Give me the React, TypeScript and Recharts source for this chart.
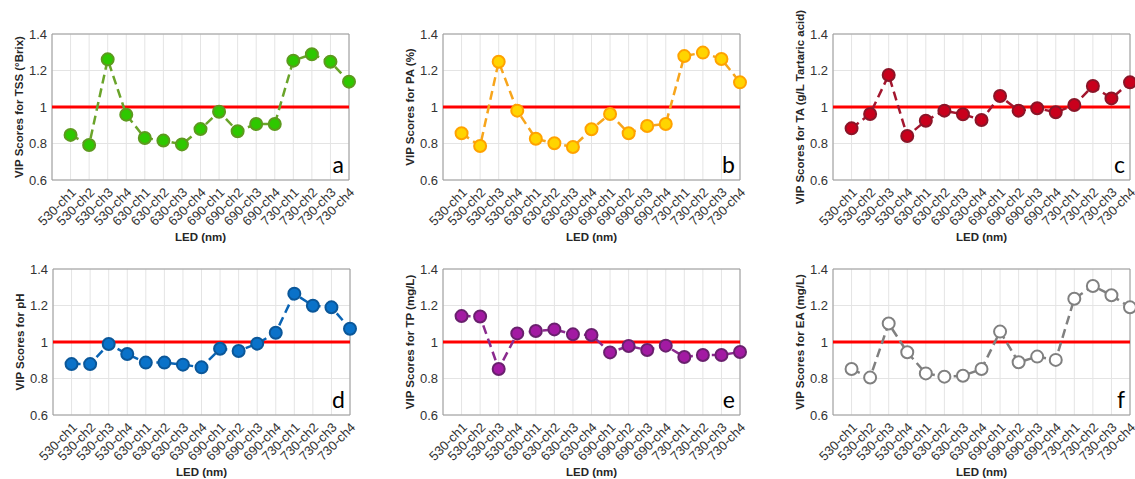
import React from 'react';
import { LineChart, Line, XAxis, YAxis, CartesianGrid, ReferenceLine, ReferenceArea } from 'recharts';

const categories = ['530-ch1','530-ch2','530-ch3','530-ch4','630-ch1','630-ch2','630-ch3','630-ch4','690-ch1','690-ch2','690-ch3','690-ch4','730-ch1','730-ch2','730-ch3','730-ch4'];

const tssVip = [0.847,0.792,1.261,0.958,0.830,0.816,0.795,0.879,0.974,0.867,0.907,0.907,1.254,1.289,1.248,1.139];
const paVip = [0.856,0.786,1.248,0.980,0.826,0.801,0.781,0.878,0.962,0.856,0.896,0.907,1.279,1.298,1.263,1.135];
const taVip = [0.883,0.962,1.175,0.841,0.925,0.980,0.960,0.929,1.060,0.980,0.993,0.971,1.011,1.115,1.047,1.135];
const phVip = [0.879,0.879,0.989,0.934,0.887,0.887,0.876,0.861,0.963,0.951,0.991,1.051,1.265,1.199,1.190,1.073];
const tpVip = [1.142,1.140,0.852,1.047,1.060,1.069,1.042,1.038,0.943,0.978,0.956,0.980,0.918,0.929,0.929,0.945];
const eaVip = [0.852,0.805,1.101,0.944,0.828,0.810,0.815,0.852,1.057,0.889,0.920,0.902,1.237,1.307,1.256,1.190];

const yTicks = [0.6, 0.8, 1, 1.2, 1.4];
const threshold = 1;
const xLabel = 'LED (nm)';

const FONT = '"Liberation Sans", Arial, Helvetica, sans-serif';
const PLOT_W = 297;
const PLOT_H = 146;

type Panel = {
  values: number[];
  yLabel: string;
  letter: string;
  left: number;
  top: number;
  fill: string;
  stroke: string;
  line: string;
};

const panels: Panel[] = [
  { values: tssVip, yLabel: 'VIP Scores for TSS (°Brix)', letter: 'a', left: 52, top: 34, fill: '#2ec800', stroke: '#5c9a1e', line: '#6aa42a' },
  { values: paVip, yLabel: 'VIP Scores for PA (%)', letter: 'b', left: 443, top: 34, fill: '#ffd400', stroke: '#ffa200', line: '#f7a51c' },
  { values: taVip, yLabel: 'VIP Scores for TA (g/L Tartaric acid)', letter: 'c', left: 833, top: 34, fill: '#c9001c', stroke: '#8a1528', line: '#a3162e' },
  { values: phVip, yLabel: 'VIP Scores for pH', letter: 'd', left: 53, top: 269, fill: '#0a72c9', stroke: '#0b5799', line: '#0a64b4' },
  { values: tpVip, yLabel: 'VIP Scores for TP (mg/L)', letter: 'e', left: 443, top: 269, fill: '#a31aa3', stroke: '#6a206e', line: '#8a2a8e' },
  { values: eaVip, yLabel: 'VIP Scores for EA (mg/L)', letter: 'f', left: 833, top: 269, fill: '#ffffff', stroke: '#808080', line: '#808080' },
];

const M_LEFT = 60;
const M_TOP = 30;
const M_RIGHT = 40;
const M_BOTTOM = 75;
const Y_AXIS_W = 45;
const X_AXIS_H = 65;

const XTick = (props: any) => {
  const { x, y, payload } = props;
  const ax = x + 3;
  const ay = y + 10;
  return (
    <text
      x={ax}
      y={ay}
      transform={`rotate(-45 ${ax} ${ay})`}
      textAnchor="end"
      dominantBaseline="central"
      fontSize={13}
      fontFamily={FONT}
      fill="#333"
    >
      {categories[payload.value - 1]}
    </text>
  );
};

const PanelChart = ({ p }: { p: Panel }) => {
  const data = categories.map((c, i) => ({ x: i + 1, name: c, v: p.values[i] }));
  const xTicks = categories.map((_, i) => i + 1);
  return (
    <div style={{ position: 'absolute', left: p.left - M_LEFT, top: p.top - M_TOP }}>
      <LineChart
        width={M_LEFT + PLOT_W + M_RIGHT}
        height={M_TOP + PLOT_H + M_BOTTOM}
        data={data}
        margin={{ top: M_TOP, left: M_LEFT - Y_AXIS_W, right: M_RIGHT, bottom: M_BOTTOM - X_AXIS_H }}
      >
        <CartesianGrid stroke="#e4e4e4" strokeWidth={1} />
        <XAxis
          dataKey="x"
          type="number"
          domain={[0, 16]}
          ticks={xTicks}
          interval={0}
          height={X_AXIS_H}
          tickSize={0}
          tickMargin={0}
          tickLine={false}
          axisLine={false}
          tick={<XTick />}
        />
        <YAxis
          type="number"
          domain={[0.6, 1.4]}
          ticks={yTicks}
          width={Y_AXIS_W}
          tickSize={3}
          tickMargin={2}
          tickLine={false}
          axisLine={false}
          tick={{ fontSize: 13, fill: '#333', fontFamily: FONT }}
        />
        <ReferenceArea x1={0} x2={16} y1={0.6} y2={1.4} fill="none" stroke="#9a9a9a" strokeWidth={1} />
        <ReferenceLine y={threshold} stroke="#ff0000" strokeWidth={3} />
        <Line
          type="linear"
          dataKey="v"
          stroke={p.line}
          strokeWidth={2.5}
          strokeDasharray="9 5"
          dot={{ r: 6, fill: p.fill, stroke: p.stroke, strokeWidth: 2, strokeDasharray: '0' }}
          activeDot={false}
          isAnimationActive={false}
        />
      </LineChart>
    </div>
  );
};

export default function App() {
  return (
    <div style={{ position: 'fixed', left: 0, top: 0, width: 1135, height: 479, background: '#fff', overflow: 'hidden' }}>
      {panels.map((p) => (
        <PanelChart key={p.letter} p={p} />
      ))}
      <svg width={1135} height={479} style={{ position: 'absolute', left: 0, top: 0, pointerEvents: 'none' }}>
        {panels.map((p) => {
          const cx = p.left - 33;
          const cy = p.top + PLOT_H / 2;
          return (
            <g key={p.letter}>
              <text
                transform={`translate(${cx} ${cy}) rotate(-90)`}
                textAnchor="middle"
                dominantBaseline="central"
                fontSize={11.5}
                fontWeight="bold"
                fontFamily={FONT}
                fill="#262626"
              >
                {p.yLabel}
              </text>
              <text
                x={p.left + PLOT_W / 2}
                y={p.top + PLOT_H + 57}
                textAnchor="middle"
                dominantBaseline="central"
                fontSize={11.5}
                fontWeight="bold"
                fontFamily={FONT}
                fill="#262626"
              >
                {xLabel}
              </text>
              <text
                x={p.left + PLOT_W - 5}
                y={p.top + PLOT_H - 7}
                textAnchor="end"
                fontSize={23}
                fontFamily="Lato, 'Open Sans', sans-serif"
                fill="#000"
              >
                {p.letter}
              </text>
            </g>
          );
        })}
      </svg>
    </div>
  );
}
